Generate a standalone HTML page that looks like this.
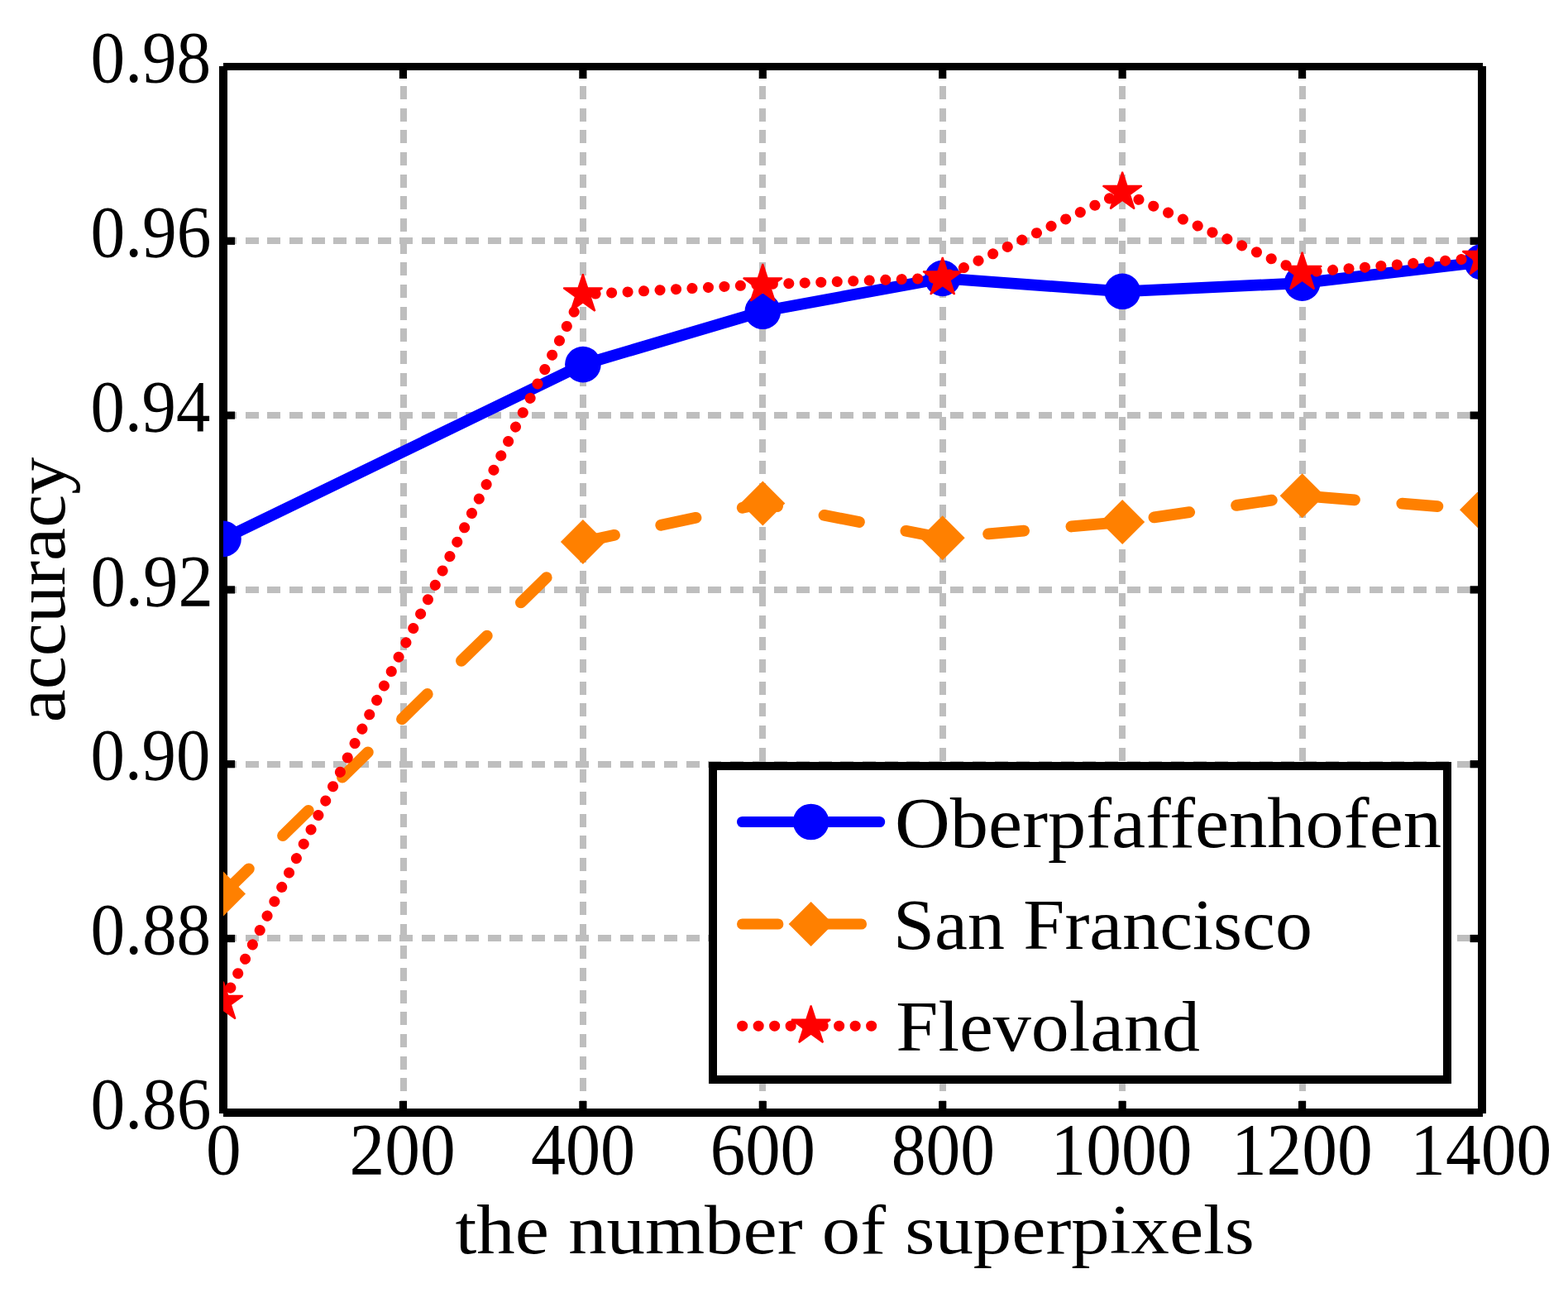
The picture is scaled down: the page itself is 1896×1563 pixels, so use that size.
<!DOCTYPE html>
<html lang="en"><head><meta charset="utf-8"><title>accuracy vs the number of superpixels</title>
<style>html,body{margin:0;padding:0;background:#fff;overflow:hidden}svg{display:block}text{font-family:"Liberation Serif","DejaVu Serif",serif;fill:#000}</style></head><body>
<svg width="1896" height="1563" viewBox="0 0 1896 1563" role="img" aria-label="accuracy versus the number of superpixels">
<rect x="0" y="0" width="1896" height="1563" fill="#fff"/>
<g id="grid" fill="none" stroke="#bebebe" stroke-width="8" stroke-dasharray="16 10.65" shape-rendering="crispEdges">
<line x1="488" y1="1346" x2="488" y2="80.0"/>
<line x1="705" y1="1346" x2="705" y2="80.0"/>
<line x1="922" y1="1346" x2="922" y2="80.0"/>
<line x1="1140" y1="1346" x2="1140" y2="80.0"/>
<line x1="1357" y1="1346" x2="1357" y2="80.0"/>
<line x1="1575" y1="1346" x2="1575" y2="80.0"/>
<line x1="270.0" y1="291" x2="1793" y2="291"/>
<line x1="270.0" y1="502" x2="1793" y2="502"/>
<line x1="270.0" y1="713" x2="1793" y2="713"/>
<line x1="270.0" y1="924" x2="1793" y2="924"/>
<line x1="270.0" y1="1134" x2="1793" y2="1134"/>
</g>
<g id="spines" fill="#000" shape-rendering="crispEdges">
<rect x="265" y="80" width="10" height="1266"/>
<rect x="1787" y="80" width="10" height="1266"/>
<rect x="270" y="76" width="1523" height="9"/>
<rect x="270" y="1340" width="1523" height="10"/>
</g>
<g id="ticks" fill="#000">
<rect x="482.83" y="80" width="9.2" height="15"/>
<rect x="482.83" y="1331" width="9.2" height="15"/>
<rect x="700.26" y="80" width="9.2" height="15"/>
<rect x="700.26" y="1331" width="9.2" height="15"/>
<rect x="917.69" y="80" width="9.2" height="15"/>
<rect x="917.69" y="1331" width="9.2" height="15"/>
<rect x="1135.11" y="80" width="9.2" height="15"/>
<rect x="1135.11" y="1331" width="9.2" height="15"/>
<rect x="1352.54" y="80" width="9.2" height="15"/>
<rect x="1352.54" y="1331" width="9.2" height="15"/>
<rect x="1569.97" y="80" width="9.2" height="15"/>
<rect x="1569.97" y="1331" width="9.2" height="15"/>
<rect x="270" y="1129.90" width="14" height="9.2"/>
<rect x="1777.6" y="1129.90" width="15.4" height="9.2"/>
<rect x="270" y="919.10" width="14" height="9.2"/>
<rect x="1777.6" y="919.10" width="15.4" height="9.2"/>
<rect x="270" y="708.30" width="14" height="9.2"/>
<rect x="1777.6" y="708.30" width="15.4" height="9.2"/>
<rect x="270" y="497.50" width="14" height="9.2"/>
<rect x="1777.6" y="497.50" width="15.4" height="9.2"/>
<rect x="270" y="286.70" width="14" height="9.2"/>
<rect x="1777.6" y="286.70" width="15.4" height="9.2"/>
</g>
<defs><clipPath id="axclip"><rect x="270" y="80" width="1517" height="1266"/></clipPath></defs>
<g id="series" clip-path="url(#axclip)">
<polyline points="270.0,651.4 704.9,440.6 922.3,376.3 1139.7,336.4 1357.2,352.3 1574.6,342.2 1792.0,316.7" fill="none" stroke="#0000ff" stroke-width="13.8" stroke-linejoin="round" stroke-linecap="round"/>
<g fill="#0000ff"><circle cx="270.0" cy="651.4" r="21.8"/><circle cx="704.9" cy="440.6" r="21.8"/><circle cx="922.3" cy="376.3" r="21.8"/><circle cx="1139.7" cy="336.4" r="21.8"/><circle cx="1357.2" cy="352.3" r="21.8"/><circle cx="1574.6" cy="342.2" r="21.8"/><circle cx="1792.0" cy="316.7" r="21.8"/></g>
<polyline points="270.0,1080.5 704.9,655.0 922.3,608.6 1139.7,650.3 1357.2,631.0 1574.6,599.3 1792.0,616.3" fill="none" stroke="#ff8000" stroke-width="13.8" stroke-linejoin="round" stroke-linecap="round" stroke-dasharray="43.2 57.5"/>
<g fill="#ff8000"><polygon points="270.0,1053.5 297.0,1080.5 270.0,1107.5 243.0,1080.5"/><polygon points="704.9,628.0 731.9,655.0 704.9,682.0 677.9,655.0"/><polygon points="922.3,581.6 949.3,608.6 922.3,635.6 895.3,608.6"/><polygon points="1139.7,623.3 1166.7,650.3 1139.7,677.3 1112.7,650.3"/><polygon points="1357.2,604.0 1384.2,631.0 1357.2,658.0 1330.2,631.0"/><polygon points="1574.6,572.3 1601.6,599.3 1574.6,626.3 1547.6,599.3"/><polygon points="1792.0,589.3 1819.0,616.3 1792.0,643.3 1765.0,616.3"/></g>
<polyline points="270.0,1211.5 704.9,355.9 922.3,343.8 1139.7,335.8 1357.2,232.4 1574.6,329.4 1792.0,311.5" fill="none" stroke="#ff0000" stroke-width="13" stroke-linejoin="round" stroke-linecap="round" stroke-dasharray="0.1 19.40"/>
<g fill="#ff0000" stroke="#ff0000" stroke-width="2" stroke-linejoin="bevel"><polygon points="270.00,1186.80 275.54,1203.87 293.49,1203.87 278.97,1214.41 284.52,1231.48 270.00,1220.93 255.48,1231.48 261.03,1214.41 246.51,1203.87 264.46,1203.87"/><polygon points="704.86,331.20 710.40,348.27 728.35,348.27 713.83,358.81 719.38,375.88 704.86,365.33 690.34,375.88 695.89,358.81 681.37,348.27 699.32,348.27"/><polygon points="922.29,319.10 927.83,336.17 945.78,336.17 931.26,346.71 936.81,363.78 922.29,353.23 907.77,363.78 913.32,346.71 898.80,336.17 916.75,336.17"/><polygon points="1139.72,311.10 1145.26,328.17 1163.21,328.17 1148.69,338.71 1154.24,355.78 1139.72,345.23 1125.20,355.78 1130.75,338.71 1116.23,328.17 1134.18,328.17"/><polygon points="1357.15,207.70 1362.69,224.77 1380.64,224.77 1366.12,235.31 1371.67,252.38 1357.15,241.83 1342.63,252.38 1348.18,235.31 1333.66,224.77 1351.61,224.77"/><polygon points="1574.58,304.70 1580.12,321.77 1598.07,321.77 1583.55,332.31 1589.10,349.38 1574.58,338.83 1560.06,349.38 1565.61,332.31 1551.09,321.77 1569.04,321.77"/><polygon points="1792.01,286.80 1797.55,303.87 1815.50,303.87 1800.98,314.41 1806.53,331.48 1792.01,320.93 1777.49,331.48 1783.04,314.41 1768.52,303.87 1786.47,303.87"/></g>
</g>
<g id="legend">
<rect x="862" y="926" width="888" height="379" fill="#fff" stroke="#000" stroke-width="10" shape-rendering="crispEdges"/>
<line x1="897.6" y1="993.5" x2="1063.6" y2="993.5" stroke="#0000ff" stroke-width="13.2" stroke-linecap="round"/>
<g fill="#0000ff"><circle cx="980.6" cy="993.5" r="21.8"/></g>
<line x1="897.6" y1="1117.0" x2="1063.6" y2="1117.0" stroke="#ff8000" stroke-width="13.2" stroke-linecap="round" stroke-dasharray="43.2 57.5"/>
<g fill="#ff8000"><polygon points="980.6,1090.0 1007.6,1117.0 980.6,1144.0 953.6,1117.0"/></g>
<line x1="897.6" y1="1240.2" x2="1063.6" y2="1240.2" stroke="#ff0000" stroke-width="13" stroke-linecap="round" stroke-dasharray="0.1 19.40"/>
<g fill="#ff0000" stroke="#ff0000" stroke-width="2" stroke-linejoin="bevel"><polygon points="980.60,1215.50 986.14,1232.57 1004.09,1232.57 989.57,1243.11 995.12,1260.18 980.60,1249.63 966.08,1260.18 971.63,1243.11 957.11,1232.57 975.06,1232.57"/></g>
</g>
<g id="labels">
<text transform="matrix(0.9478 0 0 1 109.54 1364.00)" font-size="88.0">0.86</text>
<text transform="matrix(0.9461 0 0 1 109.55 1153.00)" font-size="88.0">0.88</text>
<text transform="matrix(0.9400 0 0 1 109.57 942.00)" font-size="88.0">0.90</text>
<text transform="matrix(0.9631 0 0 1 109.49 732.00)" font-size="88.0">0.92</text>
<text transform="matrix(0.9403 0 0 1 109.57 521.00)" font-size="88.0">0.94</text>
<text transform="matrix(0.9478 0 0 1 109.54 310.00)" font-size="88.0">0.96</text>
<text transform="matrix(0.9461 0 0 1 109.55 99.00)" font-size="88.0">0.98</text>
<text transform="matrix(0.9695 0 0 1 249.07 1419.00)" font-size="88.0">0</text>
<text transform="matrix(0.9707 0 0 1 422.50 1419.00)" font-size="88.0">200</text>
<text transform="matrix(0.9566 0 0 1 641.92 1419.00)" font-size="88.0">400</text>
<text transform="matrix(0.9643 0 0 1 858.72 1419.00)" font-size="88.0">600</text>
<text transform="matrix(0.9487 0 0 1 1077.74 1419.00)" font-size="88.0">800</text>
<text transform="matrix(0.9713 0 0 1 1270.49 1419.00)" font-size="88.0">1000</text>
<text transform="matrix(0.9713 0 0 1 1488.89 1419.00)" font-size="88.0">1200</text>
<text transform="matrix(0.9707 0 0 1 1705.30 1419.00)" font-size="88.0">1400</text>
<text transform="matrix(1.0855 0 0 1 550.57 1515.00)" font-size="85.5">the number of superpixels</text>
<text transform="matrix(1.0698 0 0 1 1082.00 1024.00)" font-size="86.5">Oberpfaffenhofen</text>
<text transform="matrix(1.0398 0 0 1 1080.00 1147.00)" font-size="86.5">San Francisco</text>
<text transform="matrix(1.0633 0 0 1 1083.24 1270.00)" font-size="86.5">Flevoland</text>
<text transform="translate(77.8 873.31) rotate(-90) scale(1.0438 1)" font-size="86.5">accuracy</text>
</g>
</svg></body></html>
